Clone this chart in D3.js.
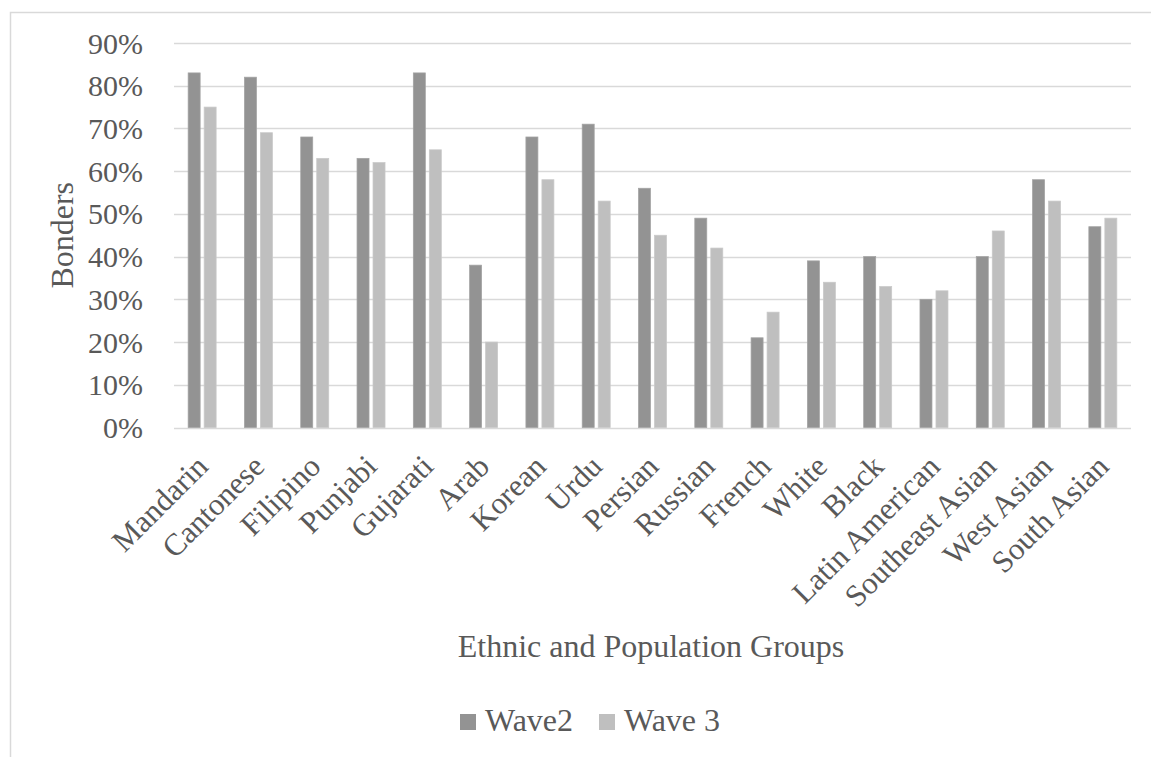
<!DOCTYPE html>
<html>
<head>
<meta charset="utf-8">
<script src="https://cdn.jsdelivr.net/npm/d3@7"></script>
<style>
  html, body { margin: 0; padding: 0; background: #fff; }
  svg { display: block; }
  text { font-family: "Liberation Serif", "Times New Roman", serif; fill: #595959; }
</style>
</head>
<body>
<svg id="chart" width="1151" height="757" font-family="Liberation Serif, Times New Roman, serif"></svg>
<script>
// Share of bonders by ethnic / population group, two survey waves
const categories = ["Mandarin", "Cantonese", "Filipino", "Punjabi", "Gujarati", "Arab", "Korean", "Urdu",
  "Persian", "Russian", "French", "White", "Black", "Latin American", "Southeast Asian", "West Asian", "South Asian"];
const wave2 = [83, 82, 68, 63, 83, 38, 68, 71, 56, 49, 21, 39, 40, 30, 40, 58, 47];
const wave3 = [75, 69, 63, 62, 65, 20, 58, 53, 45, 42, 27, 34, 33, 32, 46, 53, 49];
const seriesNames = ["Wave2", "Wave 3"];
const seriesColors = ["#939393", "#bfbfbf"];
const yTicks = [0, 10, 20, 30, 40, 50, 60, 70, 80, 90];

const svg = d3.select("#chart");
const W = 1151, H = 757;

// outer chart frame
svg.append("path")
  .attr("d", `M10.5,${H} L10.5,12.5 L${W},12.5`)
  .attr("fill", "none").attr("stroke", "#d9d9d9").attr("stroke-width", 1.5);

const plot = { left: 174, right: 1131, top: 43, bottom: 427.5 };

const x = d3.scaleBand().domain(categories).range([plot.left, plot.right]).paddingInner(0).paddingOuter(0);
const y = d3.scaleLinear().domain([0, 90]).range([plot.bottom, plot.top]);

// gridlines
svg.append("g").selectAll("line").data(yTicks).join("line")
  .attr("x1", plot.left).attr("x2", plot.right)
  .attr("y1", d => Math.round(y(d)) + 0.5).attr("y2", d => Math.round(y(d)) + 0.5)
  .attr("stroke", "#d9d9d9").attr("stroke-width", 1.5);

// y tick labels
svg.append("g").selectAll("text").data(yTicks).join("text")
  .attr("x", 143).attr("y", d => y(d))
  .attr("dy", "0.35em")
  .attr("text-anchor", "end")
  .attr("font-size", 30)
  .text(d => d + "%");

// bars
const barW = 12, gap = 4;
const series = [wave2, wave3];
series.forEach((vals, si) => {
  svg.append("g").selectAll("rect").data(categories).join("rect")
    .attr("x", (c, i) => x(c) + x.bandwidth() / 2 + (si === 0 ? -(gap / 2 + barW) : gap / 2))
    .attr("y", (c, i) => y(vals[i]))
    .attr("width", barW)
    .attr("height", (c, i) => y(0) - y(vals[i]))
    .attr("fill", seriesColors[si])
    .attr("stroke", si === 0 ? "#a3a3a3" : "#c9c9c9")
    .attr("stroke-width", 0.75);
});

// category labels, rotated
svg.append("g").selectAll("text").data(categories).join("text")
  .attr("transform", c => `translate(${x(c) + x.bandwidth() / 2 + 0},${plot.bottom + 33}) rotate(-45)`)
  .attr("text-anchor", "end")
  .attr("dy", "0.35em")
  .attr("font-size", 31)
  .text(c => c);

// axis titles
svg.append("text")
  .attr("transform", `translate(73,${(plot.top + plot.bottom) / 2}) rotate(-90)`)
  .attr("text-anchor", "middle")
  .attr("font-size", 32)
  .text("Bonders");

svg.append("text")
  .attr("x", 651).attr("y", 657)
  .attr("text-anchor", "middle")
  .attr("font-size", 32)
  .text("Ethnic and Population Groups");

// legend
const legend = svg.append("g");
const legendX = [460, 599];
seriesNames.forEach((name, i) => {
  legend.append("rect")
    .attr("x", legendX[i]).attr("y", 714).attr("width", 16).attr("height", 16)
    .attr("fill", seriesColors[i]);
  legend.append("text")
    .attr("x", legendX[i] + 25).attr("y", 731)
    .attr("font-size", 32)
    .text(name);
});
</script>
</body>
</html>
